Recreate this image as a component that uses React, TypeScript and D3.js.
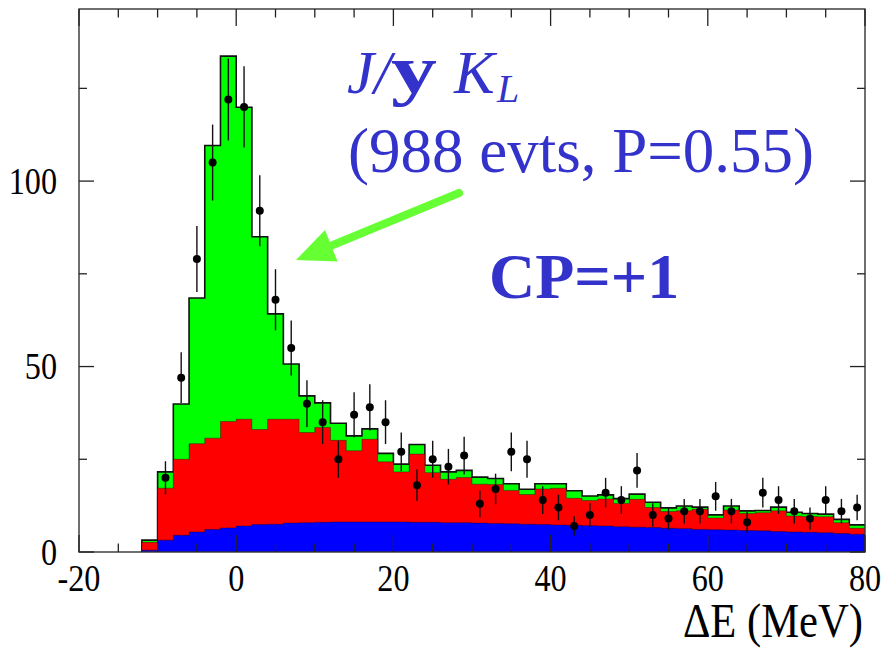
import React from "react";
import * as d3 from "d3";

// ---- data ----
const BIN_START = -12; // MeV, left edge of first bin
const BIN_WIDTH = 2; // MeV

// total (signal + backgrounds) – green histogram top
const totalCounts = [
  3.2, 21.6, 39.9, 68.5, 109.6, 133.7, 119.9, 85.0, 64.2, 50.7,
  42.1, 40.2, 34.7, 31.3, 33.2, 26.6, 23.7, 29.0, 23.4, 21.6,
  22.0, 20.2, 19.8, 18.4, 16.9, 18.4, 18.4, 16.5, 15.1, 15.4,
  14.4, 15.6, 13.4, 11.9, 12.4, 12.1, 10.0, 12.4, 11.1, 11.2,
  12.1, 10.7, 10.4, 10.2, 8.8, 7.3,
];
// red + blue backgrounds (top of red)
const bkgCounts = [
  2.6, 17.2, 25.0, 29.2, 30.7, 35.2, 35.8, 33.0, 35.8, 35.8,
  32.2, 33.6, 30.1, 27.3, 30.4, 24.3, 21.6, 26.4, 21.4, 19.6,
  20.1, 18.3, 18.2, 16.6, 15.5, 17.0, 17.2, 14.5, 13.9, 14.3,
  13.1, 14.2, 12.0, 10.9, 11.1, 11.5, 9.2, 11.3, 10.4, 10.6,
  11.1, 9.7, 9.6, 9.5, 7.9, 6.4,
];
// blue background
const blueCounts = [
  0.5, 3.2, 4.5, 5.4, 6.1, 6.5, 7.0, 7.4, 7.5, 7.8,
  7.9, 8.0, 8.1, 8.1, 8.1, 8.1, 8.1, 8.0, 8.0, 7.9,
  7.9, 7.8, 7.7, 7.6, 7.5, 7.4, 7.3, 7.2, 7.1, 7.0,
  6.8, 6.7, 6.6, 6.4, 6.3, 6.1, 6.0, 5.9, 5.8, 5.7,
  5.5, 5.4, 5.3, 5.2, 5.0, 4.8,
];
// data points (bin centres -9 … 79)
const dataX = [
  -9, -7, -5, -3, -1, 1, 3, 5, 7, 9, 11, 13, 15, 17, 19, 21, 23, 25, 27, 29,
  31, 33, 35, 37, 39, 41, 43, 45, 47, 49, 51, 53, 55, 57, 59, 61, 63, 65, 67,
  69, 71, 73, 75, 77, 79,
];
const dataY = [
  20, 47, 79, 105, 122, 120, 92, 68, 55, 40, 35, 25, 37, 39, 35, 27, 18, 25,
  23, 26, 13, 17, 27, 25, 14, 12, 7, 10, 16, 14, 22, 10, 9, 11, 11, 15, 11, 8,
  16, 14, 11, 9, 14, 11, 12,
];

const xTickMajor = [-20, 0, 20, 40, 60, 80];
const yTickMajor = [0, 50, 100];

const X_DOMAIN: [number, number] = [-20, 80];
const Y_MAX = 146.4;

const SERIF = "'Liberation Serif', 'Times New Roman', Times, serif";

export default function App() {
  const left = 79,
    right = 865,
    top = 9,
    bottom = 552;
  const x = d3.scaleLinear().domain(X_DOMAIN).range([left, right]);
  const y = d3.scaleLinear().domain([0, Y_MAX]).range([bottom, top]);

  const toPts = (arr: number[]) => {
    const pts: [number, number][] = arr.map((v, i) => [
      BIN_START + i * BIN_WIDTH,
      v,
    ]);
    pts.push([BIN_START + arr.length * BIN_WIDTH, arr[arr.length - 1]]);
    return pts;
  };

  const area = d3
    .area<[number, number]>()
    .x((d) => x(d[0]))
    .y0(y(0))
    .y1((d) => y(d[1]))
    .curve(d3.curveStepAfter);
  const line = d3
    .line<[number, number]>()
    .x((d) => x(d[0]))
    .y((d) => y(d[1]))
    .curve(d3.curveStepAfter);

  const outline = (arr: number[]) => {
    const pts = toPts(arr);
    return line([[BIN_START, 0], ...pts]) || "";
  };

  const minorX = d3.range(-20, 80.01, 5);
  const minorY = d3.range(0, Y_MAX, 25);

  const sx = 0.87;
  const fontTicks = 37;

  return (
    <svg width={882} height={650} style={{ display: "block", position: "absolute", left: 0, top: 0 }}>
      <rect x={0} y={0} width={882} height={650} fill="#fff" />
      {/* histograms */}
      <path d={area(toPts(totalCounts)) || ""} fill="#00ff00" />
      <path d={outline(totalCounts)} fill="none" stroke="#111" strokeWidth={1.6} />
      <path d={area(toPts(bkgCounts)) || ""} fill="#ff0000" />
      <path d={outline(bkgCounts)} fill="none" stroke="#000" strokeWidth={1} strokeOpacity={0.35} />
      <path d={area(toPts(blueCounts)) || ""} fill="#0000ff" />
      <path d={outline(blueCounts)} fill="none" stroke="#000" strokeWidth={1} strokeOpacity={0.35} />

      {/* frame */}
      <rect x={left} y={top} width={right - left} height={bottom - top} fill="none" stroke="#333" strokeWidth={1.4} />

      {/* ticks */}
      {minorX.map((t) => {
        const major = xTickMajor.includes(t);
        const len = major ? 17 : 8.5;
        return (
          <g key={"xt" + t}>
            <line x1={x(t)} x2={x(t)} y1={bottom} y2={bottom - len} stroke="#222" strokeWidth={1.3} />
            <line x1={x(t)} x2={x(t)} y1={top} y2={top + len} stroke="#222" strokeWidth={1.3} />
          </g>
        );
      })}
      {minorY.map((t) => {
        const major = yTickMajor.includes(t);
        const len = major ? 15 : 8;
        return (
          <g key={"yt" + t}>
            <line x1={left} x2={left + len} y1={y(t)} y2={y(t)} stroke="#222" strokeWidth={1.3} />
            <line x1={right} x2={right - len} y1={y(t)} y2={y(t)} stroke="#222" strokeWidth={1.3} />
          </g>
        );
      })}

      {/* data points */}
      {dataX.map((dx, i) => {
        const v = dataY[i];
        const e = Math.sqrt(v);
        return (
          <g key={"p" + i}>
            <line x1={x(dx)} x2={x(dx)} y1={y(v + e)} y2={y(Math.max(0, v - e))} stroke="#111" strokeWidth={1.4} />
            <circle cx={x(dx)} cy={y(v)} r={4} fill="#000" />
          </g>
        );
      })}

      {/* tick labels */}
      {xTickMajor.map((t) => (
        <text
          key={"xl" + t}
          transform={`translate(${x(t)},591) scale(${sx},1)`}
          textAnchor="middle"
          fontFamily={SERIF}
          fontSize={fontTicks}
          fill="#000"
        >
          {t}
        </text>
      ))}
      {yTickMajor.map((t) => (
        <text
          key={"yl" + t}
          transform={`translate(57,${y(t) + 12.5}) scale(${sx},1)`}
          textAnchor="end"
          fontFamily={SERIF}
          fontSize={fontTicks}
          fill="#000"
        >
          {t}
        </text>
      ))}
      <text
        transform={`translate(863,637) scale(${sx},1)`}
        textAnchor="end"
        fontFamily={SERIF}
        fontSize={49}
        fill="#000"
      >
        ΔE (MeV)
      </text>

      {/* annotations */}
      <text fontFamily={SERIF} fill="#3333cc" y={93}>
        <tspan x={347} fontStyle="italic" fontSize={61}>J/</tspan>
        <tspan x={454} fontStyle="italic" fontSize={61}>K</tspan>
        <tspan x={497} y={102} fontStyle="italic" fontSize={40}>L</tspan>
      </text>
      <text
        transform="translate(391,93) scale(1.35,1)"
        fontFamily={SERIF}
        fontWeight="bold"
        fontSize={68}
        fill="#3333cc"
      >
        y
      </text>
      <text x={348} y={172} fontFamily={SERIF} fontSize={63} fill="#3333cc">
        (988 evts, P=0.55)
      </text>
      <text x={489} y={298} fontFamily={SERIF} fontSize={64} fontWeight="bold" fill="#3333cc">
        CP=+1
      </text>

      {/* arrow */}
      <line x1={459} y1={193} x2={328} y2={247} stroke="#66ff33" strokeWidth={8} strokeLinecap="round" />
      <polygon points="296,260 325,230 337.6,261.6" fill="#66ff33" />
    </svg>
  );
}
